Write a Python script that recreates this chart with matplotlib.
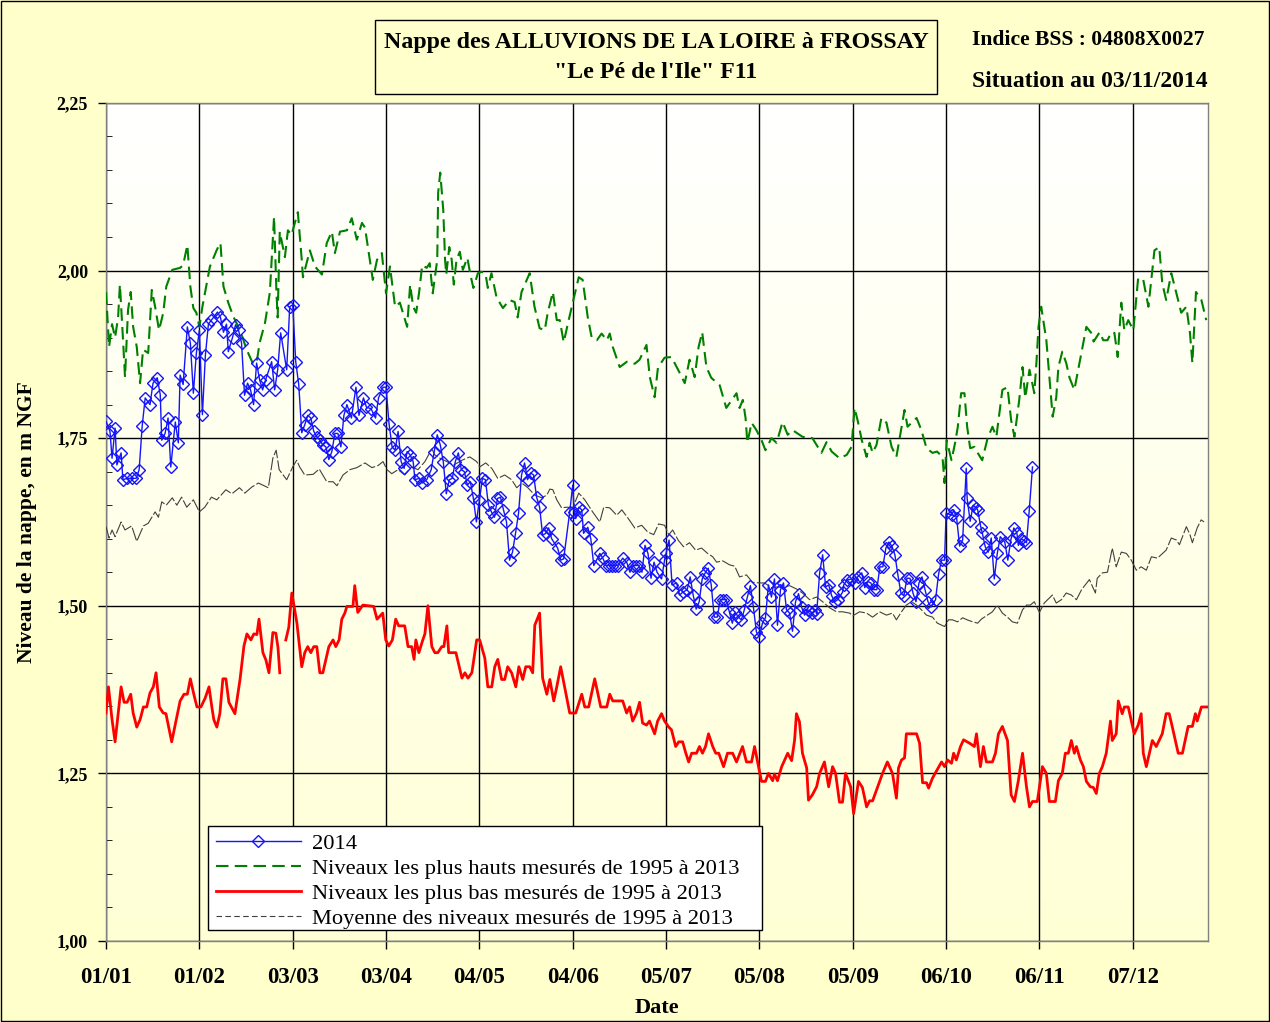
import numpy as np
import matplotlib.pyplot as plt
from matplotlib.colors import LinearSegmentedColormap
from matplotlib.patches import Rectangle
from matplotlib.lines import Line2D
from matplotlib.ticker import MultipleLocator, FuncFormatter

# ---- data (day of year, leap-year axis starting 01/01) ----
tick_days = [0, 31, 62, 93, 124, 155, 186, 217, 248, 279, 310, 341]
tick_labels = ['01/01', '01/02', '03/03', '03/04', '04/05', '04/06',
               '05/07', '05/08', '05/09', '06/10', '06/11', '07/12']

# 2014 measurements
days_2014 = [0, 1.3, 2, 3, 3.6, 5, 5.6, 7, 8.5, 10, 11, 12, 13, 14.6, 15.6, 17, 18, 18.5, 19.6, 20.6,
             21.5, 23, 24, 24.6, 25.6, 27, 28, 29, 30, 31, 32, 33, 34, 35, 37, 38, 39, 40, 40.6, 42,
             43, 44, 45, 46, 47, 48, 49, 50, 51, 52, 53, 55, 56, 57, 58, 60, 61, 62, 63, 64,
             65, 66, 67, 68, 69, 70, 71, 72, 73, 74, 75, 76, 77, 78, 79, 80, 81.5, 83, 84, 85.5,
             86.5, 88, 89.5, 90.5, 92, 93, 94, 95, 96, 97, 98, 99, 100, 101, 102, 102.6, 104, 105, 106.5, 108,
             109, 110, 111, 112, 113, 114, 115, 116, 117, 118, 119, 120, 121, 122, 123, 124, 125, 126, 127, 128,
             129, 130, 131, 132, 133, 134, 135, 136, 137, 138, 139, 140, 141, 142, 143, 144, 145, 146, 147, 148,
             150, 151, 152, 154, 155, 155.5, 156, 157, 158, 158.6, 160, 161, 162, 164, 165, 166, 167, 168, 169, 170,
             171.6, 173, 174, 175, 176, 177, 178, 179, 180, 181, 182, 183, 184.5, 185.5, 186, 187, 188, 189.5, 190.5, 191.5,
             193, 194, 195, 196, 197, 198, 199, 200, 201, 202, 203, 204, 205, 206, 207, 208, 209, 210, 211, 212,
             213, 214, 215, 216, 217, 218, 219, 220, 221, 222, 223, 224, 225, 226, 227, 228, 229, 230, 231, 232,
             233, 234.6, 235.6, 236, 237, 238, 239, 240, 241, 242, 243, 244.6, 245, 246, 247.6, 248.6, 249.6, 251, 252, 253,
             254, 255, 256, 257, 258, 259, 260, 261, 262, 263, 264, 265, 266, 267, 268, 269, 270, 271, 272, 273,
             274, 275.5, 276.5, 277.5, 278.5, 279, 281, 281.5, 282.5, 283.5, 284.5, 285.7, 286, 287, 288, 289, 289.5, 290.5, 291, 292,
             293, 294, 295, 296, 297, 298.5, 299.5, 300.5, 301.5, 302.5, 303, 304, 305, 305.7, 306.6, 307.7]
niv_2014 = [1.775, 1.76, 1.72, 1.765, 1.71, 1.728, 1.688, 1.69, 1.69, 1.69, 1.703, 1.768, 1.81, 1.80, 1.832, 1.84, 1.815, 1.747, 1.757, 1.78,
            1.707, 1.774, 1.743, 1.844, 1.83, 1.916, 1.892, 1.817, 1.877, 1.911, 1.785, 1.874, 1.92, 1.926, 1.938, 1.93, 1.908, 1.92, 1.879, 1.90,
            1.919, 1.911, 1.892, 1.814, 1.832, 1.822, 1.80, 1.862, 1.837, 1.822, 1.837, 1.864, 1.822, 1.852, 1.907, 1.852, 1.946, 1.949, 1.864, 1.83,
            1.758, 1.77, 1.784, 1.78, 1.76, 1.752, 1.747, 1.74, 1.737, 1.718, 1.73, 1.757, 1.757, 1.737, 1.784, 1.80, 1.78, 1.826, 1.784, 1.81,
            1.796, 1.794, 1.78, 1.81, 1.826, 1.826, 1.771, 1.737, 1.732, 1.76, 1.715, 1.705, 1.73, 1.725, 1.715, 1.688, 1.69, 1.683, 1.688, 1.703,
            1.73, 1.755, 1.74, 1.715, 1.667, 1.688, 1.69, 1.715, 1.728, 1.703, 1.70, 1.68, 1.685, 1.66, 1.625, 1.658, 1.69, 1.688, 1.65, 1.64,
            1.632, 1.66, 1.662, 1.643, 1.625, 1.568, 1.58, 1.608, 1.638, 1.695, 1.713, 1.688, 1.698, 1.695, 1.662, 1.647, 1.605, 1.608, 1.616, 1.60,
            1.586, 1.568, 1.57, 1.64, 1.68, 1.64, 1.63, 1.647, 1.643, 1.608, 1.617, 1.60, 1.56, 1.578, 1.571, 1.56, 1.56, 1.56, 1.56, 1.56,
            1.571, 1.564, 1.55, 1.56, 1.56, 1.56, 1.55, 1.59, 1.578, 1.541, 1.565, 1.55, 1.54, 1.568, 1.578, 1.598, 1.531, 1.534, 1.516, 1.52,
            1.524, 1.543, 1.516, 1.495, 1.506, 1.54, 1.549, 1.556, 1.531, 1.483, 1.483, 1.509, 1.509, 1.509, 1.491, 1.474, 1.49, 1.483, 1.479, 1.494,
            1.513, 1.53, 1.498, 1.461, 1.453, 1.474, 1.482, 1.531, 1.513, 1.54, 1.471, 1.524, 1.534, 1.494, 1.489, 1.462, 1.506, 1.518, 1.498, 1.486,
            1.494, 1.489, 1.494, 1.488, 1.549, 1.576, 1.528, 1.531, 1.515, 1.506, 1.509, 1.52, 1.531, 1.538, 1.54, 1.534, 1.543, 1.549, 1.527, 1.536,
            1.534, 1.524, 1.524, 1.558, 1.558, 1.586, 1.595, 1.589, 1.576, 1.546, 1.519, 1.515, 1.541, 1.541, 1.519, 1.506, 1.534, 1.543, 1.524, 1.506,
            1.498, 1.509, 1.547, 1.568, 1.568, 1.638, 1.635, 1.643, 1.631, 1.589, 1.598, 1.705, 1.66, 1.626, 1.65, 1.646, 1.643, 1.618, 1.609, 1.588,
            1.58, 1.601, 1.54, 1.578, 1.603, 1.595, 1.568, 1.598, 1.616, 1.609, 1.59, 1.60, 1.597, 1.594, 1.641, 1.707]

# highest levels 1995-2013
days_haut = [0, 1, 2, 3, 4, 4.6, 5.6, 6.3, 7.3, 8.2, 9, 10.2, 11.3, 12.3, 14, 15.2, 16.3, 17.6, 19, 20,
             22, 24.6, 25.6, 27, 28, 29, 30, 31, 32, 34.5, 36.8, 38, 39, 40.6, 42.3, 44.5, 46.7, 48.8, 50, 51,
             52.8, 54.4, 55.8, 56.6, 57, 57.7, 59.4, 60.4, 61.6, 63.7, 65, 65.4, 67.7, 69.4, 71.7, 73.3, 75, 76, 77.7, 80,
             81.6, 83.3, 85, 86, 87.6, 88.6, 90, 91.6, 93, 94.3, 96, 97.6, 100, 101, 102, 103, 104, 105, 106.5, 107.5,
             108.5, 110, 110.3, 111, 112, 112.6, 113, 114, 114.8, 115.5, 116.4, 117.5, 118.5, 120, 121, 122, 123.5, 124.7, 126, 126.8,
             128, 129.7, 131.8, 134, 135.7, 136.7, 138, 140.7, 142.3, 144, 145.7, 146.7, 148.4, 149.7, 150.7, 152, 153.3, 155, 157, 158.3,
             160, 161.3, 163, 164.6, 166.3, 167.3, 168.3, 170.6, 173, 175.6, 177.2, 179.5, 180.6, 182.2, 183.3, 185.5, 187.8, 190, 192.2, 193.8,
             195.5, 196.8, 198, 199.4, 201, 203.8, 206, 209.4, 210.4, 211.5, 212.4, 213, 214.4, 216, 217.7, 219, 221, 222.7, 224.7, 226.4,
             228, 231.3, 234.6, 237.6, 239.3, 241, 243.6, 246, 247.6, 248.6, 249.6, 251, 252.6, 253.6, 254.6, 255.9, 257.5, 259.2, 260.9, 262.5,
             265.2, 266.2, 269.2, 270.8, 272.5, 274.5, 276, 277.8, 278.5, 279.2, 280.8, 282, 282.9, 284, 285.1, 286, 287, 288.4, 289.5, 291,
             292.8, 294.4, 295.7, 297.7, 299.4, 300.6, 301.7, 303.3, 304.4, 305.3, 306.7, 308.3, 309, 309.7, 310.6, 312.3, 313.3, 314.4, 315.6, 316.3,
             317.6, 318.9, 320, 321.6, 323.3, 325.6, 327.2, 328, 330, 331.2, 332.6, 333.9, 334.9, 336, 337.2, 338.2, 339.5, 341.2, 342.8, 344.5,
             346.2, 348.2, 349.8, 350.8, 352.1, 353.8, 355.5, 357.1, 358.8, 360, 360.8, 362, 363.8, 365.4]
niv_haut = [1.968, 1.886, 1.92, 1.90, 1.93, 1.979, 1.90, 1.841, 1.941, 1.968, 1.916, 1.886, 1.832, 1.882, 1.877, 1.971, 1.946, 1.911, 1.937, 1.976,
            2.001, 2.004, 2.008, 2.038, 1.976, 1.944, 1.937, 1.916, 1.946, 2.006, 2.031, 2.041, 1.976, 1.952, 1.931, 1.911, 1.882, 1.861, 1.862, 1.892,
            1.922, 1.967, 2.08, 1.967, 1.93, 2.058, 2.02, 2.06, 2.053, 2.087, 2.016, 1.99, 2.03, 2.006, 1.994, 2.041, 2.058, 2.026, 2.058, 2.06,
            2.078, 2.046, 2.071, 2.064, 2.016, 1.986, 2.016, 2.026, 1.966, 2.006, 1.946, 1.952, 1.916, 1.979, 1.946, 1.937, 1.968, 2.008, 2.004, 2.011,
            1.966, 2.016, 2.116, 2.146, 2.09, 2.016, 1.994, 2.035, 2.016, 1.979, 2.016, 2.028, 2.001, 2.019, 1.994, 1.974, 1.996, 1.998, 1.996, 1.974,
            1.996, 1.96, 1.944, 1.956, 1.953, 1.93, 1.968, 1.996, 1.946, 1.914, 1.911, 1.937, 1.968, 1.926, 1.926, 1.893, 1.919, 1.952, 1.99, 1.986,
            1.93, 1.90, 1.896, 1.906, 1.896, 1.906, 1.886, 1.856, 1.864, 1.861, 1.867, 1.889, 1.841, 1.811, 1.855, 1.87, 1.871, 1.852, 1.832, 1.867,
            1.841, 1.886, 1.908, 1.856, 1.84, 1.829, 1.795, 1.817, 1.795, 1.807, 1.78, 1.743, 1.773, 1.762, 1.747, 1.732, 1.75, 1.743, 1.774, 1.755,
            1.762, 1.752, 1.75, 1.728, 1.744, 1.73, 1.72, 1.725, 1.737, 1.795, 1.777, 1.747, 1.722, 1.743, 1.728, 1.74, 1.78, 1.773, 1.737, 1.722,
            1.792, 1.767, 1.78, 1.762, 1.735, 1.728, 1.73, 1.722, 1.683, 1.747, 1.717, 1.743, 1.767, 1.817, 1.817, 1.767, 1.735, 1.737, 1.728, 1.717,
            1.75, 1.767, 1.752, 1.822, 1.826, 1.777, 1.752, 1.807, 1.856, 1.81, 1.852, 1.817, 1.862, 1.916, 1.946, 1.896, 1.841, 1.782, 1.811, 1.856,
            1.879, 1.862, 1.84, 1.822, 1.862, 1.916, 1.907, 1.894, 1.908, 1.896, 1.896, 1.908, 1.907, 1.871, 1.952, 1.911, 1.926, 1.911, 1.989, 1.986,
            1.946, 2.03, 2.035, 1.981, 1.956, 1.996, 1.966, 1.937, 1.946, 1.907, 1.862, 1.968, 1.956, 1.926]

# lowest levels 1995-2013 (NaN = gap in record)
days_bas = [0, 0.8, 2, 3, 5, 6, 7, 8.2, 9, 10.2, 11.3, 12.4, 13.5, 14.6, 15.7, 16.6, 17.7, 19, 19.9, 21.8,
            24.6, 25.9, 27, 28, 29.2, 30.2, 31.5, 32.9, 34.2, 35.2, 35.8, 36.8, 37.8, 38.8, 39.8, 40.8, 42.8, 44.5, 45.8, 46.8,
            48.1, 49.1, 50.1, 50.8, 52.1, 53.1, 54.1, 55.4, 56.4, 57.1, 57.7, 58.7, 59.7, 60.7, 61.7, 63.4, 65, 66, 67, 68,
            69, 70, 71, 72, 74, 75.4, 76.3, 77.4, 78.3, 79.3, 80, 82, 82.6, 83.6, 85.3, 87, 88.9, 90, 91.9, 92.9,
            93.9, 95.1, 96.2, 97.2, 99.2, 100.3, 101.5, 102.3, 102.9, 103.9, 105.2, 105.9, 106.9, 108.2, 109.2, 110.2, 111.5, 112.2, 113.2, 113.8,
            116.2, 118.2, 119.2, 120.2, 121.5, 123.1, 124.1, 125.8, 126.8, 128.1, 129.1, 130.1, 131.4, 132.4, 133.4, 134.7, 136.1, 137.1, 138.4, 139.4,
            140.7, 141.7, 142.4, 144, 145, 146.4, 147.4, 148.7, 149.7, 151, 152.3, 154, 156, 158, 159, 160.3, 162.3, 164.3, 166.3, 167.3,
            168.3, 171.6, 172.9, 173.9, 174.9, 176.2, 177.2, 178.2, 179.5, 180.5, 182.2, 183.2, 184.5, 185.5, 186.9, 187.8, 189.2, 190.2, 191.5, 192.5,
            193.5, 194.5, 196.1, 197.1, 198.1, 199.1, 200.1, 201.5, 202.5, 203.5, 205.1, 206.4, 208.1, 209.4, 211.4, 212.7, 214.4, 215.4, 216.4, 217.7,
            219, 220, 221.4, 222, 223, 224.4, 226.4, 227.7, 228.7, 229.3, 230.3, 231.3, 232.7, 233.3, 234.6, 236, 237, 238.6, 240, 241.3,
            242.3, 243.6, 244.6, 245.6, 247.3, 248.3, 249.9, 251.2, 252.6, 253.6, 254.6, 256.2, 257.9, 259.5, 261.2, 262.5, 263.2, 264.2, 265.2, 265.8,
            269.2, 270.2, 271.2, 272.5, 273.2, 274.5, 277.5, 278.5, 279.5, 280.8, 281.5, 282.4, 283.8, 284.8, 286.8, 288.4, 289.1, 290.4, 291.4, 292.4,
            294.4, 295.4, 296.4, 297.7, 299.4, 300.6, 301.7, 303, 304.4, 305.7, 306.7, 307.7, 309.3, 311, 312.3, 313.3, 315.3, 316.3, 317.6, 318.6,
            319.6, 320.6, 321.6, 322.3, 323.6, 324.6, 325.6, 326.9, 327.9, 328.9, 329.9, 330.9, 332.2, 333.6, 334.2, 335.5, 336.2, 337.5, 338.2, 339.5,
            341.5, 342.8, 343.8, 344.5, 345.5, 347.5, 348.8, 350.8, 352.1, 353.1, 354.1, 356.1, 357.5, 359.4, 360.8, 361.8, 362.4, 363.8, 365.7]
niv_bas = [1.34, 1.379, 1.33, 1.297, 1.379, 1.356, 1.356, 1.368, 1.34, 1.319, 1.33, 1.349, 1.349, 1.37, 1.379, 1.40, 1.349, 1.34, 1.339, 1.297,
           1.358, 1.368, 1.368, 1.391, 1.367, 1.349, 1.349, 1.362, 1.379, 1.347, 1.33, 1.319, 1.339, 1.391, 1.391, 1.356, 1.339, 1.39, 1.44, 1.458,
           1.449, 1.458, 1.457, 1.48, 1.43, 1.419, 1.40, 1.46, 1.459, 1.438, 1.40, np.nan, 1.449, 1.468, 1.519, 1.474, 1.409, 1.43, 1.439, 1.43,
           1.439, 1.439, 1.40, 1.40, 1.439, 1.449, 1.439, 1.449, 1.48, 1.489, 1.499, 1.499, 1.53, 1.49, 1.501, 1.50, 1.499, 1.48, 1.489, 1.449,
           1.44, 1.449, 1.48, 1.47, 1.47, 1.439, 1.439, 1.42, 1.449, 1.43, 1.449, 1.458, 1.50, 1.439, 1.43, 1.43, 1.439, 1.439, 1.47, 1.43,
           1.43, 1.392, 1.40, 1.392, 1.40, 1.449, 1.449, 1.422, 1.379, 1.379, 1.409, 1.42, 1.39, 1.39, 1.409, 1.40, 1.379, 1.409, 1.39, 1.409,
           1.409, 1.40, 1.471, 1.489, 1.392, 1.368, 1.39, 1.358, 1.379, 1.409, 1.379, 1.34, 1.34, 1.368, 1.349, 1.349, 1.391, 1.349, 1.349, 1.368,
           1.358, 1.358, 1.34, 1.349, 1.328, 1.34, 1.356, 1.325, 1.322, 1.328, 1.309, 1.328, 1.339, 1.328, 1.319, 1.315, 1.29, 1.297, 1.297, 1.281,
           1.267, 1.28, 1.28, 1.29, 1.28, 1.29, 1.309, 1.29, 1.28, 1.28, 1.26, 1.28, 1.28, 1.267, 1.29, 1.267, 1.267, 1.29, 1.267, 1.238,
           1.238, 1.25, 1.239, 1.249, 1.239, 1.26, 1.28, 1.269, 1.30, 1.339, 1.327, 1.28, 1.258, 1.21, 1.218, 1.23, 1.25, 1.267, 1.23, 1.26,
           1.25, 1.207, 1.207, 1.25, 1.23, 1.19, 1.238, 1.229, 1.20, 1.209, 1.209, 1.229, 1.25, 1.267, 1.25, 1.213, 1.258, 1.27, 1.273, 1.309,
           1.309, 1.295, 1.236, 1.236, 1.228, 1.243, 1.267, 1.26, 1.27, 1.265, 1.28, 1.27, 1.29, 1.30, 1.295, 1.29, 1.309, 1.26, 1.29, 1.267,
           1.267, 1.28, 1.309, 1.32, 1.299, 1.218, 1.208, 1.239, 1.28, 1.23, 1.20, 1.208, 1.208, 1.26, 1.25, 1.208, 1.208, 1.239, 1.25, 1.28,
           1.28, 1.299, 1.28, 1.29, 1.27, 1.26, 1.238, 1.23, 1.229, 1.22, 1.25, 1.26, 1.28, 1.328, 1.299, 1.309, 1.358, 1.339, 1.349, 1.349,
           1.309, 1.322, 1.339, 1.28, 1.26, 1.299, 1.29, 1.309, 1.339, 1.339, 1.32, 1.28, 1.28, 1.32, 1.32, 1.339, 1.328, 1.349, 1.349]

# mean levels 1995-2013
days_moy = [0, 1, 2, 3, 5, 6.3, 8.5, 10.2, 12.4, 14, 16.3, 17.4, 18.5, 20, 22, 23.5, 25.1, 26.8, 29, 31,
            32.8, 35, 36.8, 39.8, 41.8, 44.3, 46.1, 48.4, 50.6, 53.9, 55.4, 56.5, 57.5, 60, 62, 63.3, 64.3, 66, 68.8, 70.8,
            73.3, 75.4, 76.7, 78.7, 81, 83.3, 86, 88.3, 90.3, 92, 93.3, 94.9, 97, 99.2, 101.5, 103.6, 105.9, 108.2, 109.2, 110.9,
            113.2, 115.5, 118.2, 120.8, 123.1, 124.1, 126.1, 128.1, 130.1, 132.4, 134.7, 136.4, 138.1, 140.1, 142.4, 144.7, 146.4, 147.4, 148.4, 149.7,
            151.3, 153, 155, 157, 159, 161.6, 164, 165.3, 167.3, 169.6, 171.3, 173.3, 175.6, 177.9, 179.9, 181.9, 183.5, 185.5, 186.9, 188.2,
            190, 191.8, 193.8, 195.8, 197.8, 199.8, 201.5, 202.8, 204.8, 207.1, 208.8, 210.4, 212.7, 214.7, 217, 218.7, 221, 223, 224.7, 227,
            229.3, 231.3, 233.7, 236, 238, 240.3, 242.6, 244.6, 247, 248, 250.3, 252.6, 254.6, 256.9, 259.2, 261.2, 262.5, 264.2, 265.8, 267.5,
            269.2, 270.8, 272.5, 274.5, 276.1, 278.5, 279.8, 281.1, 282.8, 284.5, 286, 287.8, 289.5, 290.7, 292.4, 294.4, 296, 297.7, 299.4, 301,
            302.7, 304.4, 305.7, 307, 308.3, 310, 311.6, 314.3, 315.6, 317.3, 318.9, 320.6, 322.3, 324, 326.6, 328.6, 329.2, 330.9, 332.6, 334.2,
            335.5, 337.2, 338.9, 340.5, 342.2, 343.8, 345.5, 347.2, 349.2, 352.1, 353.8, 355.5, 356.5, 358.8, 360, 360.8, 362.4, 363.7, 364.7]
niv_moy = [1.618, 1.601, 1.613, 1.603, 1.625, 1.613, 1.619, 1.596, 1.619, 1.623, 1.64, 1.632, 1.655, 1.65, 1.661, 1.65, 1.662, 1.647, 1.658, 1.64,
           1.647, 1.662, 1.658, 1.673, 1.667, 1.676, 1.668, 1.677, 1.683, 1.676, 1.72, 1.732, 1.703, 1.688, 1.707, 1.717, 1.707, 1.695, 1.696, 1.704,
           1.685, 1.685, 1.679, 1.695, 1.703, 1.706, 1.713, 1.706, 1.709, 1.715, 1.703, 1.697, 1.703, 1.695, 1.707, 1.703, 1.715, 1.734, 1.725, 1.72,
           1.715, 1.71, 1.717, 1.722, 1.715, 1.707, 1.713, 1.705, 1.69, 1.695, 1.688, 1.676, 1.683, 1.676, 1.665, 1.661, 1.665, 1.674, 1.673, 1.658,
           1.646, 1.647, 1.646, 1.668, 1.658, 1.64, 1.625, 1.647, 1.646, 1.635, 1.643, 1.631, 1.616, 1.62, 1.61, 1.606, 1.622, 1.62, 1.606, 1.613,
           1.598, 1.588, 1.594, 1.583, 1.586, 1.578, 1.573, 1.565, 1.567, 1.561, 1.559, 1.543, 1.546, 1.535, 1.534, 1.534, 1.527, 1.528, 1.527, 1.53,
           1.525, 1.519, 1.509, 1.513, 1.506, 1.497, 1.491, 1.491, 1.489, 1.485, 1.491, 1.489, 1.483, 1.491, 1.486, 1.489, 1.479, 1.491, 1.501, 1.506,
           1.501, 1.494, 1.486, 1.483, 1.474, 1.469, 1.479, 1.479, 1.476, 1.482, 1.479, 1.476, 1.474, 1.48, 1.485, 1.491, 1.501, 1.489, 1.483, 1.476,
           1.474, 1.494, 1.501, 1.501, 1.506, 1.49, 1.504, 1.516, 1.504, 1.509, 1.519, 1.516, 1.509, 1.524, 1.539, 1.519, 1.541, 1.549, 1.55, 1.586,
           1.558, 1.58, 1.578, 1.568, 1.553, 1.558, 1.553, 1.573, 1.571, 1.583, 1.601, 1.598, 1.591, 1.618, 1.606, 1.594, 1.616, 1.628, 1.625]

# ---- figure ----
plt.rcParams['font.family'] = ['Liberation Serif', 'DejaVu Serif']
bg = '#FFFFCC'
fig = plt.figure(figsize=(12.7, 10.22), dpi=100, facecolor=bg)
ax = fig.add_axes([0.0835, 0.0793, 0.8677, 0.8200])

grad = LinearSegmentedColormap.from_list('grad', ['#FFFFFF', '#FFFFD6'])
ax.imshow(np.linspace(0, 1, 256).reshape(-1, 1), extent=[0, 366, 1.0, 2.25],
          aspect='auto', cmap=grad, origin='upper', zorder=0)

green_ls = (0, (6, 3))
ax.plot(days_moy, niv_moy, color='#404040', lw=0.8, ls=(0, (12, 2)), zorder=3)
ax.plot(days_haut, niv_haut, color='#008000', lw=1.5, ls=green_ls, zorder=3)
ax.plot(days_bas, niv_bas, color='#FF0000', lw=2.0, zorder=3)
ax.plot(days_2014, niv_2014, color='#1414FF', lw=1.0, marker='D', ms=6.3,
        mfc='none', mec='#1414FF', mew=1.0, zorder=4)

ax.set_xlim(0, 366)
ax.set_ylim(1.0, 2.25)
ax.set_xticks(tick_days)
ax.set_xticklabels(tick_labels)
ax.yaxis.set_major_locator(MultipleLocator(0.25))
ax.yaxis.set_minor_locator(MultipleLocator(0.05))
ax.yaxis.set_major_formatter(FuncFormatter(lambda v, p: f'{v:.2f}'.replace('.', ',')))
ax.grid(True, which='major', color='black', lw=1.0, zorder=1)
ax.tick_params(axis='both', which='major', length=6, width=1, direction='out')
ax.tick_params(axis='y', which='major', labelsize=13, pad=7)
ax.tick_params(axis='x', which='major', labelsize=16.5, pad=13)
ax.tick_params(axis='y', which='minor', length=4, direction='in')
for lab in ax.get_xticklabels() + ax.get_yticklabels():
    lab.set_fontweight('bold')
for s in ax.spines.values():
    s.set_color('#808080')
    s.set_linewidth(1.0)

ax.set_xlabel('Date', fontsize=16, fontweight='bold', labelpad=7)
ax.set_ylabel('Niveau de la nappe, en m NGF', fontsize=15.5, fontweight='bold', labelpad=14)

# legend: frame drawn as its own box, entries placed inside it
ax.add_patch(Rectangle((0.0926, 0.0131), 0.5027, 0.1241, transform=ax.transAxes,
                       facecolor='white', edgecolor='black', lw=1.0, zorder=5))
handles = [
    Line2D([], [], color='#1414FF', lw=1.0, marker='D', ms=6.3, mfc='none', mec='#1414FF',
           markevery=[1]),
    Line2D([], [], color='#008000', lw=1.5, ls=green_ls),
    Line2D([], [], color='#FF0000', lw=2.0),
    Line2D([], [], color='#404040', lw=0.8, ls=(0, (5, 3))),
]
labels = ['2014',
          'Niveaux les plus hauts mesurés de 1995 à 2013',
          'Niveaux les plus bas mesurés de 1995 à 2013',
          'Moyenne des niveaux mesurés de 1995 à 2013']
leg = ax.legend(handles, labels, loc='upper left', bbox_to_anchor=(0.0926, 0.1372),
                fontsize=16.2, frameon=False, handlelength=3.8, handletextpad=0.5,
                labelspacing=0.19, borderpad=0.33, borderaxespad=0)
leg.set_zorder(6)

# title box
fig.patches.append(Rectangle((0.2953, 0.908), 0.4425, 0.072, transform=fig.transFigure,
                             facecolor=bg, edgecolor='black', lw=1.0))
fig.text(0.5165, 0.9589, 'Nappe des ALLUVIONS DE LA LOIRE à FROSSAY', ha='center', va='center',
         fontsize=17.2, fontweight='bold')
fig.text(0.5165, 0.9295, '"Le Pé de l\'Ile" F11', ha='center', va='center',
         fontsize=17.2, fontweight='bold')
fig.text(0.7654, 0.9609, 'Indice BSS : 04808X0027', ha='left', va='center',
         fontsize=15.6, fontweight='bold')
fig.text(0.7654, 0.9207, 'Situation au 03/11/2014', ha='left', va='center',
         fontsize=17, fontweight='bold')

fig.patches.append(Rectangle((0.001, 0.001), 0.998, 0.998, transform=fig.transFigure,
                             facecolor='none', edgecolor='black', lw=1.0))

fig.savefig('out.png', dpi=100, facecolor=bg)
